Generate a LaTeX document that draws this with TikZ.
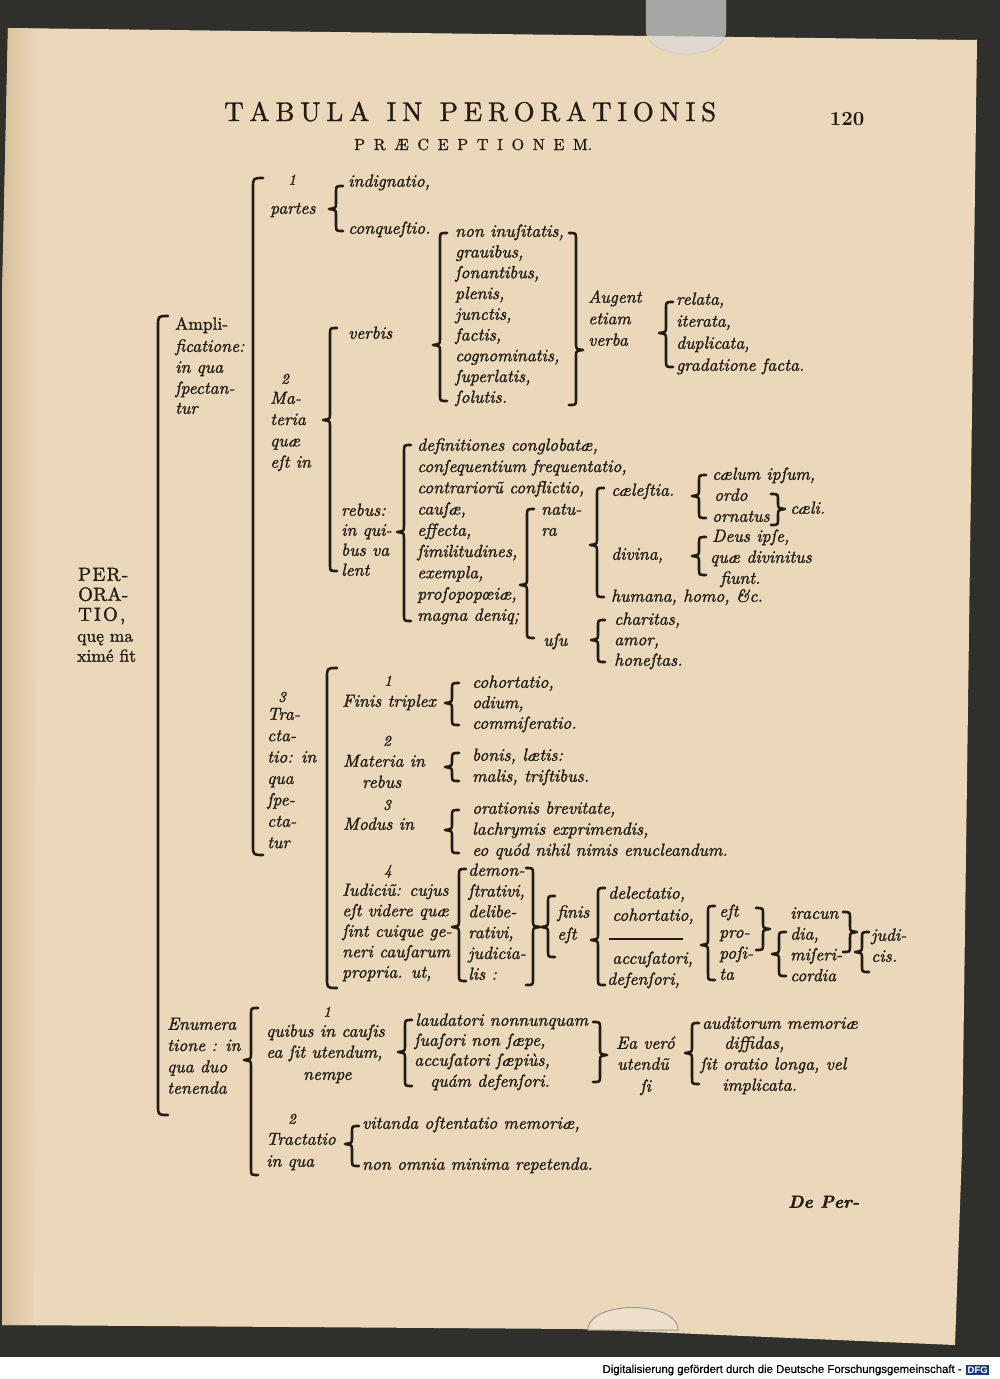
\documentclass[tikz,border=0pt]{standalone}
\usepackage{fontspec}
\usepackage{graphicx}
\setmainfont{lmroman10}[Extension=.otf, UprightFont=*-regular, ItalicFont=*-italic, BoldFont=*-bold, BoldItalicFont=*-bolditalic]
\newfontfamily\footfont{Liberation Sans}
\definecolor{ink}{HTML}{221D14}
\definecolor{paper}{HTML}{EBD8BB}
\definecolor{paperedge}{HTML}{D7BF9A}
\definecolor{dark}{HTML}{2F302B}
\definecolor{dfgblue}{HTML}{1F3C7A}
\tikzset{
 t/.style={anchor=west, inner sep=0pt, text height=7.5pt, text depth=0pt, text=ink, font=\fontsize{17.5}{21}\selectfont\itshape\addfontfeatures{FakeBold=1.5}},
 tn/.style={t, font=\fontsize{15}{18}\selectfont\itshape\addfontfeatures{FakeBold=1.5}},
 tr/.style={t, font=\fontsize{17.5}{21}\selectfont\upshape\addfontfeatures{FakeBold=1.5}},
 brc/.style={draw=ink, line width=2.6pt, line cap=round, line join=round},
}
% left brace: x, top, bottom, cusp (cusp points left)
\newcommand{\BrL}[4]{\draw[brc] ({#1+7},#2) .. controls (#1,#2) .. (#1,{#2+6}) -- (#1,{#4-6}) .. controls (#1,{#4-1}) .. ({#1-7},#4) .. controls (#1,{#4+1}) .. (#1,{#4+6}) -- (#1,{#3-6}) .. controls (#1,#3) .. ({#1+7},#3);}
% right brace: cusp points right
\newcommand{\BrR}[4]{\draw[brc] ({#1-7},#2) .. controls (#1,#2) .. (#1,{#2+6}) -- (#1,{#4-6}) .. controls (#1,{#4-1}) .. ({#1+7},#4) .. controls (#1,{#4+1}) .. (#1,{#4+6}) -- (#1,{#3-6}) .. controls (#1,#3) .. ({#1-7},#3);}
% square bracket with curled ends
\newcommand{\BrS}[3]{\draw[brc] ({#1+10},#2) .. controls (#1,#2) .. (#1,{#2+10}) -- (#1,{#3-10}) .. controls (#1,#3) .. ({#1+10},#3);}
% column of text lines
\newcommand{\Col}[5]{\foreach \tx [count=\ci] in {#5} {\node[t,name=#1\ci] at (#2,{#3+(\ci-1)*#4}) {\tx};}}
\begin{document}
\begin{tikzpicture}[x=1pt,y=-1pt]
\useasboundingbox (0,0) rectangle (1000,1379);
% background and page
\fill[dark] (0,0) rectangle (1000,1379);
\fill[paper] (8,28) -- (977,40) -- (962,1150) -- (955,1345) -- (580,1329) -- (2,1325) -- (2,300) -- cycle;
\shade[left color=paperedge, right color=paper] (2,300) -- (8,28) -- (40,29) -- (34,1325) -- (2,1325) -- cycle;
\fill[white] (0,1357) rectangle (1000,1379);
% clips
\filldraw[fill=gray!30, draw=gray!55, opacity=0.7] (646,0) -- (646,30) .. controls (646,62) and (726,62) .. (726,30) -- (726,0) -- cycle;
\filldraw[fill=paper!80!white, draw=gray!80, line width=1pt] (588,1330) .. controls (588,1300) and (678,1300) .. (678,1330) -- cycle;
% footer
\node[anchor=east, inner sep=0pt, font=\footfont\fontsize{11.4}{13}\selectfont\addfontfeatures{FakeBold=0.6}] (foot) at (962,1370) {Digitalisierung gefördert durch die Deutsche Forschungsgemeinschaft -};
\node[anchor=west, fill=dfgblue, text=white, inner sep=1.5pt, font=\footfont\bfseries\fontsize{9.5}{10}\selectfont] (dfg) at (966,1370) {DFG};
% title
\node[anchor=base west, inner sep=0pt, text=ink, font=\fontsize{27}{30}\selectfont\addfontfeatures{FakeBold=1.2}] (title) at (224,121) {\makebox[492pt][s]{T\hfil A\hfil B\hfil U\hfil L\hfil A\hfil\hfil\hfil I\hfil N\hfil\hfil\hfil P\hfil E\hfil R\hfil O\hfil R\hfil A\hfil T\hfil I\hfil O\hfil N\hfil I\hfil S}};
\node[anchor=base west, inner sep=0pt, text=ink, font=\fontsize{16}{18}\selectfont\addfontfeatures{FakeBold=1.2}] (subtitle) at (354,150) {\makebox[238pt][s]{P\hfil R\hfil Æ\hfil C\hfil E\hfil P\hfil T\hfil I\hfil O\hfil N\hfil E\hfil M.}};
\node[anchor=base, inner sep=0pt, text=ink, font=\fontsize{20}{22}\selectfont\bfseries] (page) at (847,125) {120};
% PERORATIO
\node[tr, font=\fontsize{19}{21}\selectfont\addfontfeatures{FakeBold=1.5}] (per1) at (78,577) {\makebox[50pt][s]{P\hfil E\hfil R\hfil -}};
\node[tr, font=\fontsize{19}{21}\selectfont\addfontfeatures{FakeBold=1.5}] (per2) at (78,597) {\makebox[50pt][s]{O\hfil R\hfil A\hfil -}};
\node[tr, font=\fontsize{19}{21}\selectfont\addfontfeatures{FakeBold=1.5}] (per3) at (78,617) {\makebox[47pt][s]{T\hfil I\hfil O\hfil ,}};
\node[tr] (per4) at (77,638) {quę ma};
\node[tr] (per5) at (77,658) {ximé fit};
\BrS{158}{316}{1115}
% Amplificatione
\node[tr] (amp1) at (175,326) {Ampli-};
\node[t] (amp2) at (175,348) {ficatione:};
\node[t] (amp3) at (175,369) {in qua};
\node[t] (amp4) at (175,390) {ſpectan-};
\node[t] (amp5) at (175,410) {tur};
\BrS{253}{178}{855}
% 1 partes
\node[tn] (p1n) at (288,181) {1};
\node[t] (partes) at (270,210) {partes};
\BrL{336}{186}{231}{209}
\node[t] (indig) at (348,183) {indignatio,};
\node[t] (conq) at (348,230) {conqueſtio.};
% 2 Materia
\node[tn] (m2n) at (281,380) {2};
\Col{mat}{270}{400}{21.3}{Ma-,teria,quæ,eſt in}
\BrL{330}{328}{571}{420}
\node[t] (verbis) at (348,335) {verbis};
\BrL{440}{233}{401}{345}
\Col{vb}{455}{233}{20.75}{{non inuſitatis,},{grauibus,},{ſonantibus,},{plenis,},{junctis,},{factis,},{cognominatis,},{ſuperlatis,},{ſolutis.}}
\BrR{576}{233}{405}{350}
\Col{aug}{588}{299}{21.5}{Augent,etiam,verba}
\BrL{666}{302}{367}{333}
\Col{rel}{676}{301}{22}{{relata,},{iterata,},{duplicata,},{gradatione facta.}}
% rebus
\Col{reb}{341}{512}{20}{rebus:,in qui-,bus va,lent}
\BrL{404}{445}{621}{532}
\Col{rb}{417}{447}{21.25}{{definitiones conglobatæ,},{conſequentium frequentatio,},{contrariorũ conflictio,},{cauſæ,},{effecta,},{ſimilitudines,},{exempla,},{proſopopœiæ,},{magna deniq;}}
\BrL{527}{509}{638}{585}
\node[t] (natu1) at (541,511) {natu-};
\node[t] (natu2) at (541,532) {ra};
\node[t] (usu) at (543,642) {uſu};
\BrL{597}{488}{597}{545}
\node[t] (cael) at (611,492) {cæleſtia.};
\node[t] (divina) at (611,556) {divina,};
\node[t] (humana) at (611,598) {humana, homo, \&c.};
\BrL{699}{475}{518}{496}
\node[t] (cael1) at (712,476) {cælum ipſum,};
\node[t] (cael2) at (714,497) {ordo};
\node[t] (cael3) at (712,518) {ornatus};
\BrR{778}{494}{525}{509}
\node[t] (caeli) at (790,510) {cæli.};
\BrL{699}{537}{575}{556}
\node[t] (deus1) at (712,538) {Deus ipſe,};
\node[t] (deus2) at (710,559) {quæ divinitus};
\node[t] (deus3) at (720,580) {fiunt.};
\BrL{598}{620}{662}{640}
\Col{char}{614}{621}{20.5}{{charitas,},{amor,},{honeſtas.}}
% 3 Tractatio
\node[tn] (t3n) at (278,698) {3};
\Col{tra}{267}{716}{21.4}{Tra-,cta-,tio: in,qua,ſpe-,cta-,tur}
\BrS{327}{668}{988}
\node[tn] (f1n) at (384,682) {1};
\node[t] (finis) at (342,703) {Finis triplex};
\BrL{452}{683}{725}{703}
\Col{coh}{472}{684}{20.5}{{cohortatio,},{odium,},{commiſeratio.}}
\node[tn] (f2n) at (383,742) {2};
\node[t] (matin) at (343,763) {Materia in};
\node[t] (rebus2) at (362,784) {rebus};
\BrL{452}{753}{781}{767}
\node[t] (bonis) at (472,757) {bonis, lætis:};
\node[t] (malis) at (472,778) {malis, triſtibus.};
\node[tn] (f3n) at (383,806) {3};
\node[t] (modus) at (343,826) {Modus in};
\BrL{452}{810}{853}{830}
\Col{or}{472}{810}{21}{{orationis brevitate,},{lachrymis exprimendis,},{eo quód nihil nimis enucleandum.}}
\node[tn] (f4n) at (384,871) {4};
\Col{iud}{342}{892}{20.5}{{Iudiciũ: cujus},{eſt videre quæ},{ſint cuique ge-},{neri cauſarum},{propria. ut,}}
\BrL{459}{869}{981}{927}
\Col{dem}{468}{872}{20.8}{{demon-},{ſtrativi,},{delibe-},{rativi,},{judicia-},{lis :}}
\BrR{533}{868}{985}{927}
\BrL{548}{896}{957}{927}
\node[t] (finis2) at (557,914) {finis};
\node[t] (est2) at (557,936) {eſt};
\BrL{598}{888}{985}{940}
\node[t] (del) at (608,895) {delectatio,};
\node[t] (coh2) at (612,917) {cohortatio,};
\coordinate (ruleA) at (609,939);
\coordinate (ruleB) at (683,939);
\draw[ink, line width=1.8pt] (ruleA) -- (ruleB);
\node[t] (acc) at (612,960) {accuſatori,};
\node[t] (def) at (607,981) {defenſori,};
\BrL{708}{906}{980}{945}
\Col{prop}{719}{913}{21}{eſt,pro-,poſi-,ta}
\BrR{763}{908}{950}{929}
\BrL{779}{932}{976}{954}
\Col{ira}{790}{915}{20.8}{iracun,{dia,},miſeri-,cordia}
\BrR{850}{912}{952}{932}
\BrL{862}{932}{972}{952}
\node[t] (judi1) at (871,937) {judi-};
\node[t] (judi2) at (871,958) {cis.};
% Enumeratione
\Col{enu}{167}{1026}{21.3}{Enumera,tione : in,qua duo,tenenda}
\BrL{251}{1008}{1175}{1060}
\node[tn] (e1n) at (323,1013) {1};
\node[t] (quib1) at (266,1033) {quibus in cauſis};
\node[t] (quib2) at (266,1054) {ea ſit utendum,};
\node[t] (quib3) at (303,1076) {nempe};
\BrL{405}{1020}{1086}{1052}
\node[t] (laud1) at (415,1022) {laudatori nonnunquam};
\node[t] (laud2) at (414,1042) {ſuaſori non ſæpe,};
\node[t] (laud3) at (414,1062) {accuſatori ſæpiùs,};
\node[t] (laud4) at (430,1083) {quám defenſori.};
\BrR{600}{1022}{1082}{1055}
\node[t] (ea1) at (616,1045) {Ea veró};
\node[t] (ea2) at (617,1066) {utendũ};
\node[t] (ea3) at (640,1088) {ſi};
\BrL{692}{1023}{1084}{1053}
\node[t] (aud1) at (702,1025) {auditorum memoriæ};
\node[t] (aud2) at (724,1045) {diffidas,};
\node[t] (aud3) at (700,1066) {ſit oratio longa, vel};
\node[t] (aud4) at (722,1087) {implicata.};
\node[tn] (e2n) at (288,1120) {2};
\node[t] (trac1) at (266,1141) {Tractatio};
\node[t] (trac2) at (266,1163) {in qua};
\BrL{352}{1126}{1166}{1144}
\node[t] (vit) at (362,1125) {vitanda oſtentatio memoriæ,};
\node[t] (nonom) at (362,1166) {non omnia minima repetenda.};
% catchword
\node[t, font=\fontsize{17.5}{21}\selectfont\bfseries\itshape\addfontfeatures{FakeBold=2}] (catch) at (788,1204) {De Per-};
\end{tikzpicture}
\end{document}
